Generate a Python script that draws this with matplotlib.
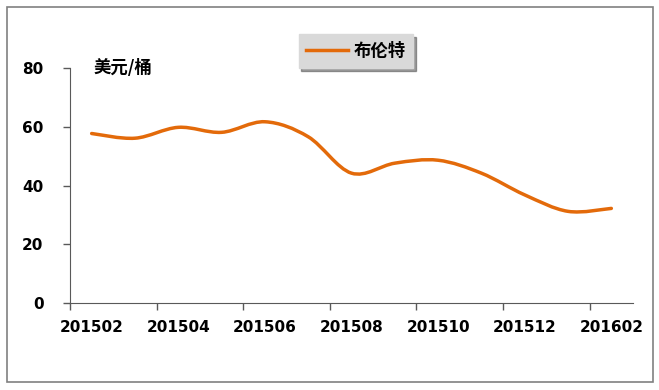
import numpy as np
import matplotlib
matplotlib.use('Agg')
import matplotlib.pyplot as plt
from matplotlib.path import Path
from matplotlib.patches import PathPatch, Rectangle
from matplotlib.lines import Line2D

plt.rcParams['font.family'] = ['Noto Sans CJK SC', 'DejaVu Sans']

# Brent monthly average, USD/bbl
months = ['201502', '201503', '201504', '201505', '201506', '201507', '201508',
          '201509', '201510', '201511', '201512', '201601', '201602']
brent = [57.7, 56.1, 59.8, 58.1, 61.7, 56.6, 44.2, 47.6, 48.6, 44.2, 36.8, 31.2, 32.2]

LINE_COLOR = '#E36A0A'


def smooth_path(xs, ys):
    # excel-style smoothed line: catmull-rom segments as cubic beziers
    pts = np.column_stack([xs, ys]).astype(float)
    ext = np.vstack([pts[0], pts, pts[-1]])
    verts = [pts[0]]
    codes = [Path.MOVETO]
    for i in range(1, len(ext) - 2):
        p0, p1, p2, p3 = ext[i - 1], ext[i], ext[i + 1], ext[i + 2]
        verts += [p1 + (p2 - p0) / 6, p2 - (p3 - p1) / 6, p2]
        codes += [Path.CURVE4] * 3
    return Path(verts, codes)


fig = plt.figure(figsize=(6.59, 3.90), dpi=100, facecolor='white')
fig.patches.append(Rectangle((7 / 659, 8 / 390), 646 / 659, 375 / 390, transform=fig.transFigure,
                             fill=False, edgecolor='#808080', lw=1.2))

ax = fig.add_axes([70 / 659, 1 - 303 / 390, 563 / 659, 235 / 390])
x = np.arange(len(months))
ax.add_patch(PathPatch(smooth_path(x, brent), fill=False, edgecolor=LINE_COLOR, lw=2.5,
                       capstyle='round', joinstyle='round'))

ax.set_xlim(-0.5, len(months) - 0.5)
ax.set_ylim(0, 80)
ax.set_yticks([0, 20, 40, 60, 80])
ax.set_xticks(x[::2])
ax.set_xticklabels(months[::2])
ax.set_xticks(np.arange(-0.5, len(months), 2), minor=True)
ax.tick_params(axis='x', which='major', length=0, pad=12)
ax.tick_params(axis='x', which='minor', length=5, width=1, color='#595959', direction='out')
ax.tick_params(axis='y', length=5, width=1, color='#595959', direction='out', pad=14)
for lab in ax.get_xticklabels() + ax.get_yticklabels():
    lab.set_fontweight('bold')
    lab.set_fontsize(11)
    lab.set_family('DejaVu Sans')
ax.spines[['top', 'right']].set_visible(False)
ax.spines['left'].set_color('#595959')
ax.spines['bottom'].set_color('#595959')

ax.text(93 / 659, 1 - 68 / 390, '美元/桶', transform=fig.transFigure, fontsize=12.5,
        fontweight='bold', ha='left', va='center')

handle = Line2D([], [], color=LINE_COLOR, lw=2.5)
leg = ax.legend([handle], ['布伦特'], loc='center', bbox_to_anchor=(356 / 659, 1 - 51 / 390),
                bbox_transform=fig.transFigure, frameon=True, fancybox=False, shadow=True,
                facecolor='#D9D9D9', edgecolor='#D9D9D9', framealpha=1, handlelength=2.4,
                handletextpad=0.3, prop={'weight': 'bold', 'size': 12.5}, borderpad=0.45)

fig.savefig('out.png', dpi=100, facecolor='white')
